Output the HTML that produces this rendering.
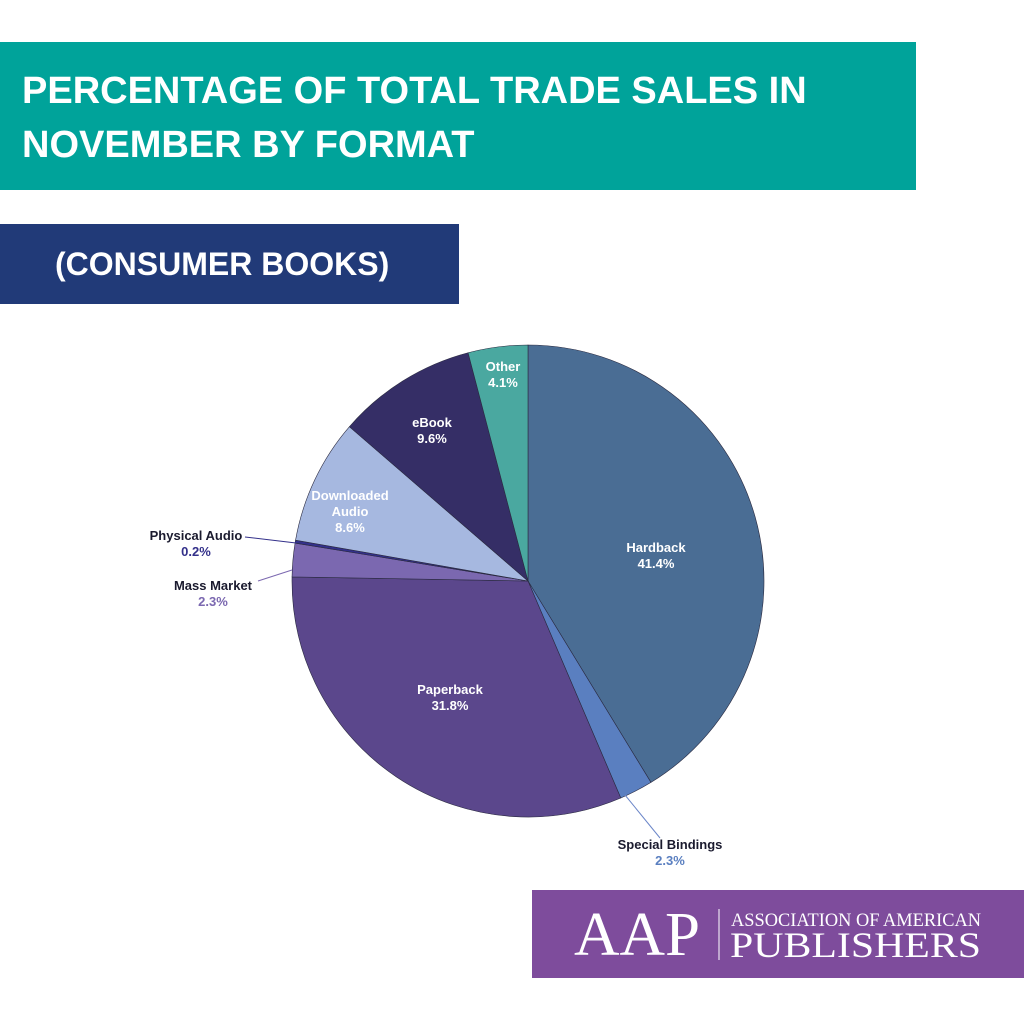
<!DOCTYPE html>
<html><head><style>
body{margin:0;width:1024px;height:1024px;background:#fff;position:relative;overflow:hidden;font-family:"Liberation Sans",sans-serif}
.t1{position:absolute;left:0;top:42px;width:916px;height:148px;background:#00a39a}
.t1 div{position:absolute;left:22px;top:22px;color:#fff;font-weight:bold;font-size:38px;line-height:54px}
.t2{position:absolute;left:0;top:224px;width:459px;height:80px;background:#213a78;color:#fff;font-weight:bold;font-size:32px;line-height:80px;text-indent:55px}
.logo{position:absolute;left:532px;top:890px;width:492px;height:88px;background:#7e4c9c}
svg{position:absolute;left:0;top:0}
</style></head><body>
<div class="t1"><div>PERCENTAGE OF TOTAL TRADE SALES IN<br>NOVEMBER BY FORMAT</div></div>
<div class="t2">(CONSUMER BOOKS)</div>
<div class="logo"></div>
<svg width="1024" height="1024" id="s" font-family="Liberation Sans, DejaVu Sans, sans-serif" font-weight="bold" font-size="13">
</svg>
<script>
var cx=528,cy=581,r=236;
var d=[[41.4,"#4a6d94"],[2.3,"#5a7fc0"],[31.8,"#5b478c"],[2.3,"#7b68b0"],[0.2,"#33308a"],[8.6,"#a6b8e0"],[9.6,"#352e66"],[4.1,"#4aa8a0"]];
var tot=100.3,a=0,h="";
d.forEach(function(s){var a0=a/tot*2*Math.PI,a1=(a+s[0])/tot*2*Math.PI;a+=s[0];
var x0=cx+r*Math.sin(a0),y0=cy-r*Math.cos(a0),x1=cx+r*Math.sin(a1),y1=cy-r*Math.cos(a1);
h+='<path d="M'+cx+','+cy+'L'+x0+','+y0+'A'+r+','+r+' 0 '+((a1-a0)>Math.PI?1:0)+' 1 '+x1+','+y1+'Z" fill="'+s[1]+'" stroke="#2a2a40" stroke-width="0.6"/>';});
h+='<line x1="625" y1="795" x2="660" y2="838" stroke="#6b86c8"/><line x1="245" y1="537" x2="296" y2="543" stroke="#33308a"/><line x1="258" y1="581" x2="292" y2="570" stroke="#7b68b0"/>';
var L=[[656,552,"Hardback","41.4%","#fff","#fff"],[450,694,"Paperback","31.8%","#fff","#fff"],[503,371,"Other","4.1%","#fff","#fff"],[432,427,"eBook","9.6%","#fff","#fff"],[350,500,"Downloaded","Audio","#fff","#fff"],[196,540,"Physical Audio","0.2%","#1a1a2e","#33308a"],[213,590,"Mass Market","2.3%","#1a1a2e","#7b68b0"],[670,849,"Special Bindings","2.3%","#1a1a2e","#5a7fc0"]];
L.forEach(function(l){h+='<text x="'+l[0]+'" y="'+l[1]+'" text-anchor="middle" fill="'+l[4]+'">'+l[2]+'</text><text x="'+l[0]+'" y="'+(l[1]+16)+'" text-anchor="middle" fill="'+l[5]+'">'+l[3]+'</text>';});
h+='<text x="350" y="532" text-anchor="middle" fill="#fff">8.6%</text>';
h+='<text x="574" y="955" font-family="Liberation Serif,serif" font-weight="normal" font-size="62" fill="#fff" textLength="126" lengthAdjust="spacingAndGlyphs">AAP</text><line x1="719" y1="909" x2="719" y2="960" stroke="#fff"/>';
h+='<text x="731" y="926" font-family="Liberation Serif,serif" font-weight="normal" font-size="19" fill="#fff" textLength="250" lengthAdjust="spacingAndGlyphs">ASSOCIATION OF AMERICAN</text>';
h+='<text x="730" y="957" font-family="Liberation Serif,serif" font-weight="normal" font-size="36" fill="#fff" textLength="251" lengthAdjust="spacingAndGlyphs">PUBLISHERS</text>';
document.getElementById("s").innerHTML=h;
</script>
</body></html>
